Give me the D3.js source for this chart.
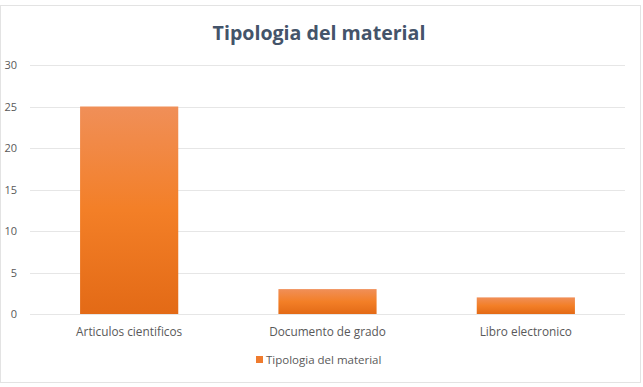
<!DOCTYPE html>
<html>
<head>
<meta charset="utf-8">
<script src="https://cdn.jsdelivr.net/npm/d3@7"></script>
<style>
body{margin:0;background:#fff;}
svg text{font-family:"Open Sans","Noto Sans",sans-serif;}
</style>
</head>
<body>
<div id="chart"></div>
<script>
const width=643;
const height=387;
const margin={top:65,right:18,bottom:73,left:30};
const categories=["Articulos cientificos","Documento de grado","Libro electronico"];
const values=[25,3,2];
const yticks=[0,5,10,15,20,25,30];
const seriesname="Tipologia del material";

const svg=d3.select("#chart").append("svg")
    .attr("width",width).attr("height",height);

svg.append("rect")
    .attr("x",0.5).attr("y",5.5).attr("width",640).attr("height",377)
    .attr("fill","#fff").attr("stroke","#e3e3e3");

const defs=svg.append("defs");
const grad=defs.append("linearGradient").attr("id","bargrad")
    .attr("x1",0).attr("y1",0).attr("x2",0).attr("y2",1);
grad.append("stop").attr("offset","0%").attr("stop-color","#f08f58");
grad.append("stop").attr("offset","50%").attr("stop-color","#f37f27");
grad.append("stop").attr("offset","100%").attr("stop-color","#e36a16");

const xscale=d3.scaleBand()
    .domain(categories)
    .range([margin.left,width-margin.right])
    .paddingInner(0.505).paddingOuter(0.2525);
const yscale=d3.scaleLinear()
    .domain([0,30])
    .range([height-margin.bottom,margin.top]);

// gridlines
svg.append("g").selectAll("line")
    .data(yticks).enter().append("line")
    .attr("x1",margin.left).attr("x2",width-margin.right)
    .attr("y1",d=>Math.round(yscale(d))+0.5).attr("y2",d=>Math.round(yscale(d))+0.5)
    .attr("stroke","#e6e6e6").attr("stroke-width",1);

// y axis labels
svg.append("g").selectAll("text")
    .data(yticks).enter().append("text")
    .attr("x",17).attr("y",d=>yscale(d)+4)
    .attr("text-anchor","end")
    .attr("font-size",11).attr("fill","#595959")
    .text(d=>d);

// bars
svg.append("g").selectAll("rect")
    .data(values).enter().append("rect")
    .attr("x",(d,i)=>xscale(categories[i]))
    .attr("width",xscale.bandwidth())
    .attr("y",d=>yscale(d))
    .attr("height",d=>yscale(0)-yscale(d))
    .attr("fill","url(#bargrad)");

// category labels
svg.append("g").selectAll("text")
    .data(categories).enter().append("text")
    .attr("x",d=>xscale(d)+xscale.bandwidth()/2)
    .attr("y",336)
    .attr("text-anchor","middle")
    .attr("font-size",11.8).attr("fill","#595959")
    .text(d=>d);

// title
svg.append("text")
    .attr("x",319).attr("y",40)
    .attr("text-anchor","middle")
    .attr("font-size",19.6).attr("font-weight","bold").attr("fill","#44546a")
    .text(seriesname);

// legend
const legend=svg.append("g");
legend.append("rect")
    .attr("x",256).attr("y",356).attr("width",7).attr("height",7)
    .attr("fill","#ef7b2e");
legend.append("text")
    .attr("x",266).attr("y",364)
    .attr("font-size",11.5).attr("fill","#595959")
    .text(seriesname);
</script>
</body>
</html>
